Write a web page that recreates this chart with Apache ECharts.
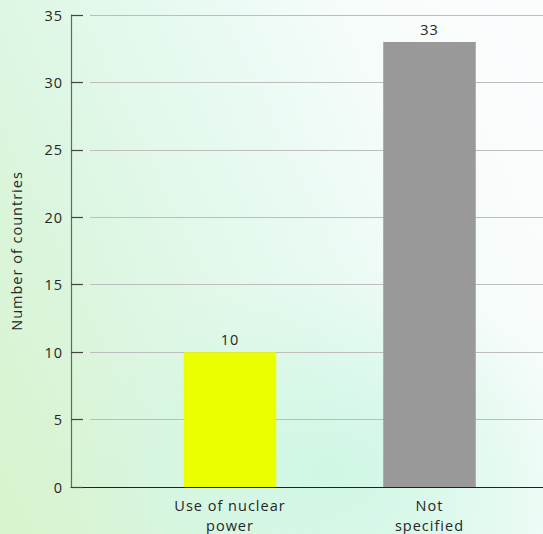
<!DOCTYPE html>
<html><head><meta charset="utf-8">
<script src="https://cdn.jsdelivr.net/npm/echarts@6/dist/echarts.min.js"></script>
<style>
html,body{margin:0;padding:0;}
#c{width:543px;height:534px;
background:
 radial-gradient(ellipse 260px 200px at 330px 470px, rgba(205,247,228,0.9), rgba(205,247,228,0) 100%),
 linear-gradient(65deg, #d6f3cc 0%, #ddf6e2 30%, #e8faf2 55%, #f6fcfa 75%, #fbfdfd 100%);}
#c text{letter-spacing:1px;}
</style></head>
<body><div id="c"></div>
<script>
const categories = ['Use of nuclear\npower', 'Not\nspecified'];
const values = [10, 33];
const barColors = ['#eaff00', '#999999'];
const yTicks = [0, 5, 10, 15, 20, 25, 30, 35];

const chart = echarts.init(document.getElementById('c'), null, {renderer:'svg'});
const font = 'Open Sans';
const tc = '#262626';
const fs = 14.5;
chart.setOption({
  backgroundColor: 'transparent',
  animation: false,
  grid: [
    {left: 71, right: 0, top: 15, bottom: 47, outerBoundsMode: 'none', containLabel: false},
    {left: 90, right: 0, top: 15, bottom: 47, outerBoundsMode: 'none', containLabel: false}
  ],
  xAxis: [
    {gridIndex: 0, type: 'value', min: 0.203, max: 2.569,
     axisLine: {show: true, lineStyle: {color: '#222', width: 1.2}},
     axisTick: {show: false}, splitLine: {show: false},
     axisLabel: {customValues: [1, 2], formatter: v => categories[Math.round(v) - 1] || '',
       color: tc, fontSize: fs, fontFamily: font, lineHeight: 20, margin: 8}},
    {gridIndex: 1, type: 'value', min: 0, max: 1, show: false}
  ],
  yAxis: [
    {gridIndex: 0, type: 'value', min: yTicks[0], max: yTicks[yTicks.length - 1], interval: 5,
     name: 'Number of countries', nameLocation: 'middle', nameGap: 47, nameRotate: 90,
     nameTextStyle: {color: tc, fontSize: fs, fontFamily: font},
     axisLine: {show: true, lineStyle: {color: '#666', width: 1.2}},
     axisTick: {show: true, inside: true, length: 12, lineStyle: {color: '#444', width: 1.2}},
     splitLine: {show: false},
     axisLabel: {color: tc, fontSize: fs, fontFamily: font, margin: 8}},
    {gridIndex: 1, type: 'value', min: 0, max: 35, interval: 5,
     axisLine: {show: false}, axisTick: {show: false}, axisLabel: {show: false},
     splitLine: {show: true, lineStyle: {color: '#bdbdbd', width: 1.2}}}
  ],
  series: [{
    type: 'bar', xAxisIndex: 0, yAxisIndex: 0, barWidth: 92.5,
    data: values.map((v, i) => ({value: [i + 1, v], itemStyle: {color: barColors[i]}})),
    label: {show: true, position: 'top', distance: 5, color: tc, fontSize: fs, fontFamily: font,
      formatter: p => p.value[1]}
  }]
});
</script></body></html>
